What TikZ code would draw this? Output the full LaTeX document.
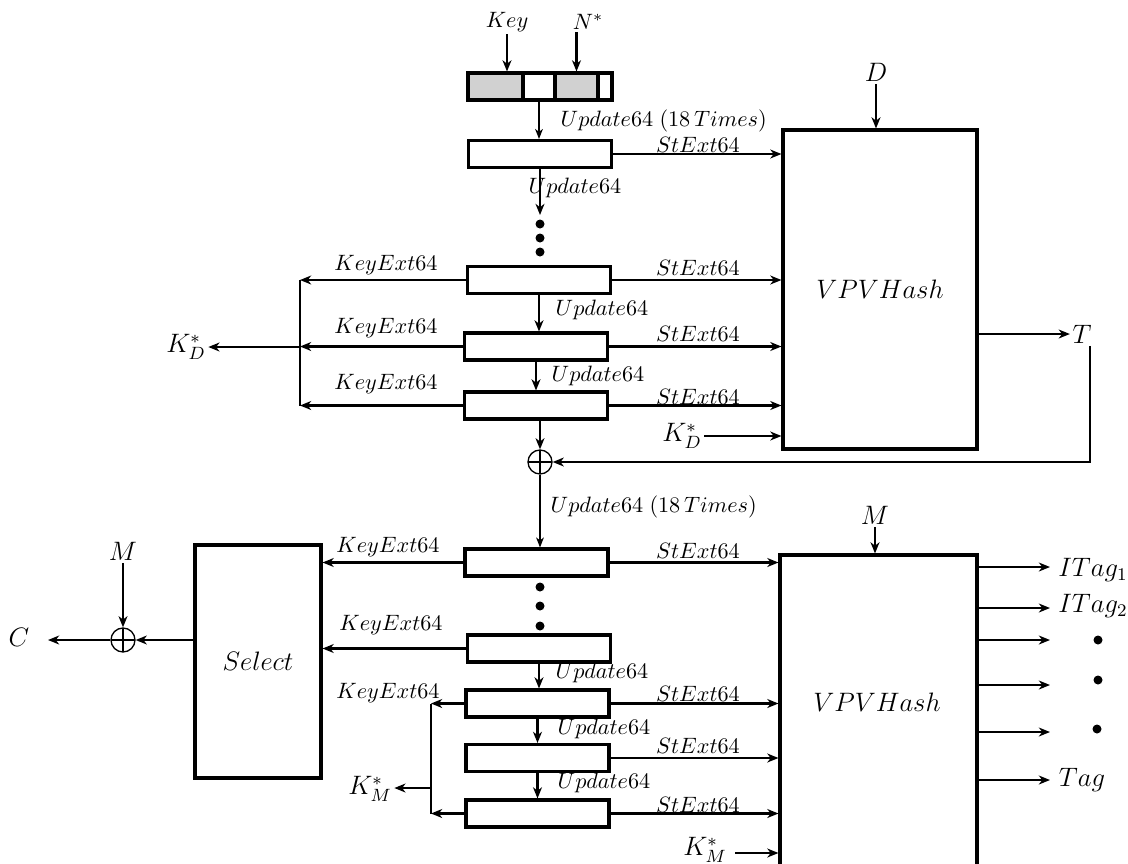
\documentclass[tikz,border=0pt]{standalone}
\usepackage{amsmath}
\usepackage{tikz}
\usetikzlibrary{arrows.meta,positioning,calc}
\newlength\upx
\setlength\upx{0.45pt}

\begin{document}
\begin{tikzpicture}[
    x=0.45pt, y=-0.45pt,
    reg/.style={rectangle, draw, line width=1.4pt, minimum width=143\upx, minimum height=27\upx, inner sep=0pt},
    cell/.style={rectangle, draw, line width=1.4pt, minimum height=27\upx, inner sep=0pt},
    hashbox/.style={rectangle, draw, line width=1.4pt, inner sep=0pt, font=\large},
    xorsym/.style={circle, draw, semithick, minimum size=24\upx, inner sep=0pt,
        path picture={\draw[semithick] (path picture bounding box.north) -- (path picture bounding box.south)
            (path picture bounding box.east) -- (path picture bounding box.west);}},
    dot/.style={circle, fill, inner sep=0pt, minimum size=9\upx},
    lab/.style={inner sep=1pt},
    biglab/.style={inner sep=1pt, font=\large},
    arrow/.style={-{Stealth[length=5pt, width=4pt, inset=1.5pt]}, line width=1.3pt},
    thinarrow/.style={-{Stealth[length=4.5pt, width=3.5pt, inset=1.3pt]}, semithick}
]
    \useasboundingbox (0,0) rectangle (1128,863);

    % input register
    \node [cell, fill=black!18, minimum width=55\upx] (regk) at (495.5,86.5) {};
    \node [cell, minimum width=32\upx] (rega) at (539,86.5) {};
    \node [cell, fill=black!18, minimum width=43\upx] (regn) at (576.5,86.5) {};
    \node [cell, minimum width=14\upx] (regb) at (605,86.5) {};
    \node [lab] (key) at (507,22) {$Key$};
    \node [lab] (nstar) at (588,22) {$N^*$};
    \draw [arrow] (key.south) -- (key.south |- regk.north);
    \draw [arrow] (regn |- nstar.south) -- (regn.north);

    % state boxes
    \node [reg] (b1) at (540,154) {};
    \node [reg] (b2) at (539,280) {};
    \node [reg] (b3) at (536,346.5) {};
    \node [reg] (b4) at (536,405.5) {};
    \node [reg] (b5) at (536.5,562.5) {};
    \node [reg] (b6) at (539,648.5) {};
    \node [reg] (b7) at (537.5,703.5) {};
    \node [reg] (b8) at (537.5,758) {};
    \node [reg] (b9) at (537.5,813.5) {};

    % hash boxes
    \node [hashbox, minimum width=194\upx, minimum height=319\upx] (h1) at (880,289.5) {$VPVHash$};
    \node [hashbox, minimum width=197\upx, minimum height=330\upx] (h2) at (878.5,720) {};
    \node [biglab] (h2lab) at (877,702) {$VPVHash$};
    \node [hashbox, minimum width=126\upx, minimum height=233\upx] (sel) at (258,661.5) {$Select$};

    % dots
    \node [dot] (d1) at (540,224) {};
    \node [dot] (d2) at (540,238) {};
    \node [dot] (d3) at (540,252) {};
    \node [dot] (d4) at (540,587) {};
    \node [dot] (d5) at (540,606) {};
    \node [dot] (d6) at (540,626) {};

    % xor nodes
    \node [xorsym] (x1) at (540,462) {};
    \node [xorsym] (x2) at (123,640) {};

    % update chain
    \draw [thinarrow] (rega.south) -- (rega.south |- b1.north);
    \node [lab, anchor=west] (u0) at (558,121) {$Update64\;(18\,Times)$};
    \draw [arrow] (b1.south) -- (540,215);
    \node [lab, anchor=west] (u1) at (526,188) {$Update64$};
    \draw [arrow] (b2.south) -- (b2.south |- b3.north);
    \node [lab, anchor=west] (u2) at (553,310) {$Update64$};
    \draw [arrow] (b3.south) -- (b3.south |- b4.north);
    \node [lab, anchor=west] (u3) at (549,376) {$Update64$};
    \draw [arrow] (x1 |- b4.south) -- (x1.north);
    \draw [thinarrow] (x1.south) -- (x1.south |- b5.north);
    \node [lab, anchor=west] (u4) at (548,507) {$Update64\;(18\,Times)$};
    \draw [arrow] (b6.south) -- (b6.south |- b7.north);
    \node [lab, anchor=west] (u5) at (553,673) {$Update64$};
    \draw [arrow] (b7.south) -- (b7.south |- b8.north);
    \node [lab, anchor=west] (u6) at (555,729) {$Update64$};
    \draw [arrow] (b8.south) -- (b8.south |- b9.north);
    \node [lab, anchor=west] (u7) at (555,783) {$Update64$};

    % state extraction into the hash
    \foreach \b/\ly in {b1/145, b2/268, b3/334, b4/397} {
        \draw [arrow] (\b.east) -- (\b.east -| h1.west);
        \node [lab] at (698,\ly) {$StExt64$};
    }
    \foreach \b/\ly in {b5/551, b7/694, b8/746, b9/805} {
        \draw [arrow] (\b.east) -- (\b.east -| h2.west);
        \node [lab] at (698,\ly) {$StExt64$};
    }

    % key extraction, first part
    \coordinate (jd) at (300,347);
    \node [biglab] (kd) at (186,347) {$K_D^*$};
    \foreach \b/\ly in {b2/265, b3/328, b4/384} {
        \draw [arrow] (\b.west) -- (\b.west -| jd);
        \node [lab] at (386,\ly) {$KeyExt64$};
    }
    \draw [line width=1.3pt] (b2.west -| jd) -- (b4.west -| jd);
    \draw [arrow] (jd) -- (jd -| kd.east);

    % first hash inputs and outputs
    \node [biglab] (dlab) at (876,72) {$D$};
    \draw [arrow] (dlab.south) -- (dlab.south |- h1.north);
    \node [biglab] (kdin) at (682,436) {$K_D^*$};
    \draw [arrow] (kdin.east) -- (kdin.east -| h1.west);
    \node [biglab] (tlab) at (1082,334) {$T$};
    \draw [arrow] (h1.east |- tlab) -- (tlab.west);
    \draw [arrow] (tlab.south -| 1090,0) -- (1090,462) -- (x1.east);

    % key extraction, second part
    \draw [arrow] (b5.west) -- (b5.west -| sel.east);
    \node [lab] at (388,547) {$KeyExt64$};
    \draw [arrow] (b6.west) -- (b6.west -| sel.east);
    \node [lab] at (391,625) {$KeyExt64$};
    \coordinate (jm) at (431,788);
    \node [biglab] (km) at (370,789) {$K_M^*$};
    \draw [arrow] (b7.west) -- (b7.west -| jm);
    \node [lab] at (388,693) {$KeyExt64$};
    \draw [arrow] (b9.west) -- (b9.west -| jm);
    \draw [line width=1.3pt] (b7.west -| jm) -- (b9.west -| jm);
    \draw [arrow] (jm) -- (jm -| km.east);

    % select and output
    \draw [arrow] (sel.west |- x2) -- (x2.east);
    \node [biglab] (mlab) at (123,551) {$M$};
    \draw [arrow] (mlab.south) -- (x2.north);
    \node [biglab] (clab) at (19,637) {$C$};
    \draw [arrow] (x2.west) -- (48,640);

    % second hash inputs and outputs
    \node [biglab] (m2lab) at (875,515) {$M$};
    \draw [arrow] (m2lab.south) -- (m2lab.south |- h2.north);
    \node [biglab] (kmin) at (705,850) {$K_M^*$};
    \draw [arrow] (735,853) -- (735,853 -| h2.west);
    \foreach \oy in {567, 608, 640, 685, 732, 780}
        \draw [arrow] (h2.east |- 0,\oy) -- (1050,\oy);
    \node [biglab] (it1) at (1093,570) {$ITag_1$};
    \node [biglab] (it2) at (1093,606) {$ITag_2$};
    \node [dot] (d7) at (1098,640) {};
    \node [dot] (d8) at (1098,680) {};
    \node [dot] (d9) at (1097,729) {};
    \node [biglab] (tag) at (1082,780) {$Tag$};
\end{tikzpicture}
\end{document}
